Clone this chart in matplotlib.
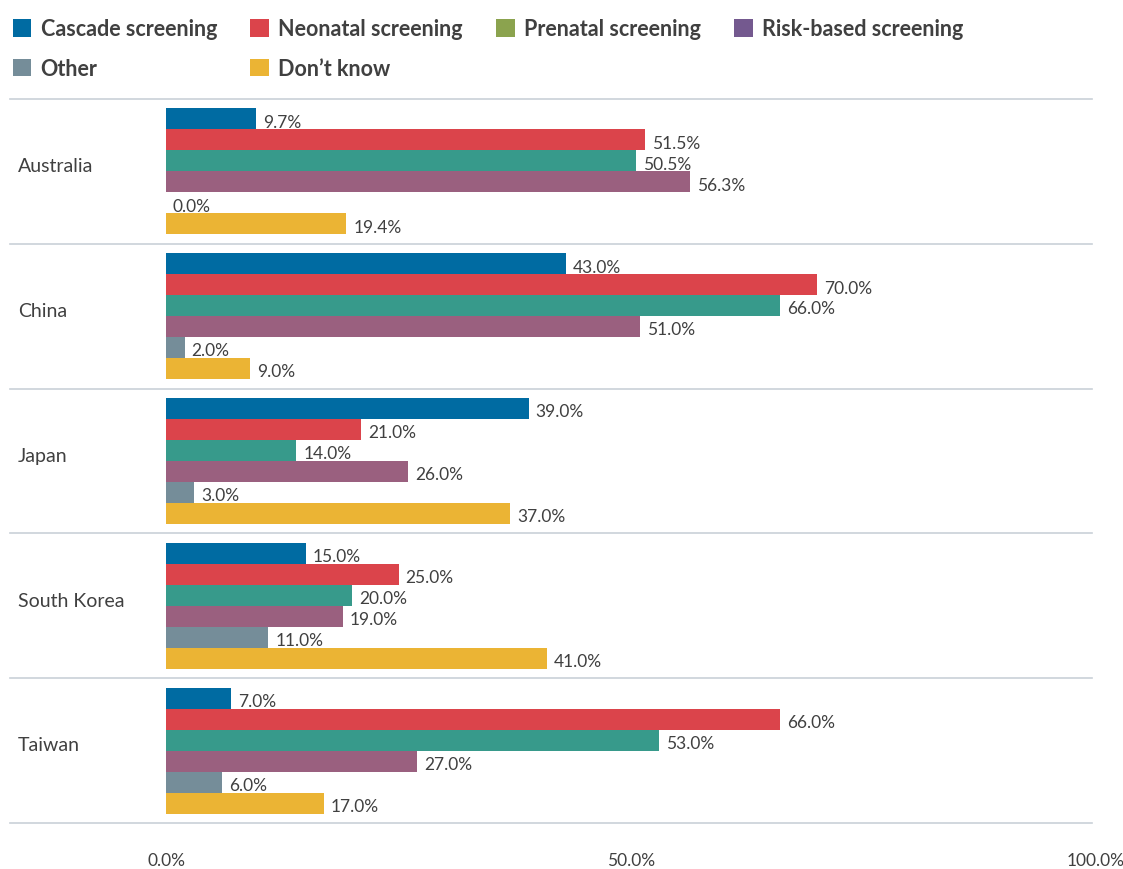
import matplotlib.pyplot as plt
from matplotlib.patches import Patch
from matplotlib import transforms
import numpy as np

plt.rcParams['font.family'] = ['Lato', 'DejaVu Sans']

# data
countries = ['Australia', 'China', 'Japan', 'South Korea', 'Taiwan']
series = ['Cascade screening', 'Neonatal screening', 'Prenatal screening',
          'Risk-based screening', 'Other', "Don\u2019t know"]
cascade = [9.7, 43.0, 39.0, 15.0, 7.0]
neonatal = [51.5, 70.0, 21.0, 25.0, 66.0]
prenatal = [50.5, 66.0, 14.0, 20.0, 53.0]
risk_based = [56.3, 51.0, 26.0, 19.0, 27.0]
other = [0.0, 2.0, 3.0, 11.0, 6.0]
dont_know = [19.4, 9.0, 37.0, 41.0, 17.0]
values = [cascade, neonatal, prenatal, risk_based, other, dont_know]

bar_colors = ['#006BA2', '#DB444B', '#379A8B', '#9A607F', '#758D99', '#EBB434']
legend_colors = ['#006BA2', '#DB444B', '#8BA34E', '#74598F', '#758D99', '#EBB434']
txt = '#404040'

fig = plt.figure(figsize=(11.23, 8.70), dpi=100)
ax = fig.add_axes([166 / 1123, 1 - 824 / 870, 930 / 1123, 724 / 870])

slot = 21 / 145
margin = (1 - 6 * slot) / 2
for i, vals in enumerate(values):
    ys = np.arange(len(countries)) + margin + slot * (i + 0.5)
    ax.barh(ys, vals, height=slot, color=bar_colors[i], linewidth=0)
    for y, v in zip(ys, vals):
        ax.annotate(f'{v:.1f}%', (v, y), xytext=(5, -2), textcoords='offset points',
                    ha='left', va='center', fontsize=12.5, color=txt)

ax.set_xlim(0, 100)
ax.set_ylim(len(countries), 0)
for s in ax.spines.values():
    s.set_visible(False)
ax.set_yticks([])
ax.set_xticks([0, 50, 100])
ax.set_xticklabels(['0.0%', '50.0%', '100.0%'], fontsize=12.5, color=txt)
ax.tick_params(axis='x', length=0, pad=21)

# separators and country names
tr = transforms.blended_transform_factory(fig.transFigure, ax.transData)
for k in range(len(countries) + 1):
    ax.plot([10 / 1123, 1092 / 1123], [k, k], transform=tr, color='#C9D1D8',
            lw=1.2, clip_on=False)
for k, c in enumerate(countries):
    ax.text(18 / 1123, k + 0.46, c, transform=tr, ha='left', va='center',
            fontsize=14, color=txt)

# legend fills column by column, so reorder to read row by row
order = [0, 4, 1, 5, 2, 3]
handles = [Patch(facecolor=legend_colors[i], edgecolor='none') for i in order]
labels = [series[i] for i in order]
leg = fig.legend(handles, labels, ncol=4, loc='upper left',
                 bbox_to_anchor=(-0.006, 1.0), frameon=False,
                 prop={'size': 15.5, 'weight': 'bold'}, handlelength=0.85,
                 handleheight=0.85, handletextpad=0.45, columnspacing=1.55,
                 labelspacing=0.85)
for t in leg.get_texts():
    t.set_color(txt)

fig.savefig('out.png', dpi=100)
